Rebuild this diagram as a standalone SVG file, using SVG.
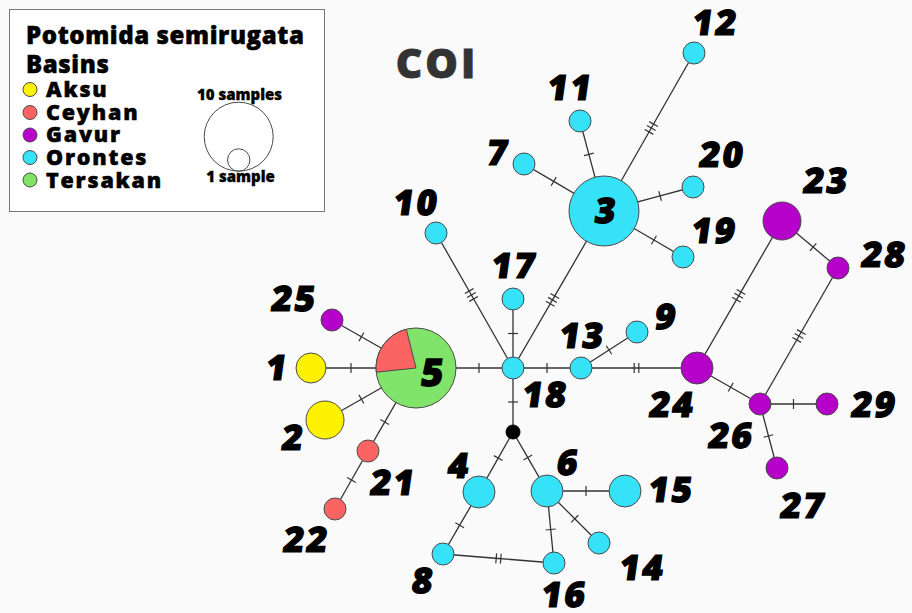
<svg xmlns="http://www.w3.org/2000/svg" width="912" height="613" viewBox="0 0 912 613">
  <style>
    .ln { stroke: #333; stroke-width: 1.3; fill: none; }
    .t1 { marker-mid: url(#tick1); }
    .t2 { marker-mid: url(#tick2); }
    .t3 { marker-mid: url(#tick3); }
    circle, .wedge { stroke: #4a4a4a; stroke-width: 1; }
    .aksu { fill: #fff200; }
    .ceyhan { fill: #fc6464; }
    .gavur { fill: #b400c8; }
    .orontes { fill: #35e2f8; }
    .tersakan { fill: #80e36a; }
    .mv { fill: #000; stroke: #000; }
    .lab { font-family: "Open Sans", "Liberation Sans", sans-serif; font-weight: 800; font-size: 35px; fill: #000; stroke: #000; stroke-width: 1.2; letter-spacing: 2.5px; text-anchor: middle; }
    .big { font-size: 38px; }
    .leg { font-family: "Open Sans", "Liberation Sans", sans-serif; font-weight: 800; fill: #000; stroke: #000; stroke-width: 0.5; }
    .legT { font-size: 24px; letter-spacing: 0.6px; }
    .legB { font-size: 21.5px; letter-spacing: 1.8px; }
    .legS { font-size: 15px; text-anchor: middle; stroke-width: 0.3; }
    .title { font-family: "Open Sans", "Liberation Sans", sans-serif; font-weight: 800; font-size: 41px; fill: #333; stroke: #333; stroke-width: 0.8; letter-spacing: 3px; text-anchor: middle; }
  </style>
  <defs>
    <!-- mutation ticks, drawn across the connector at its middle vertex -->
    <marker id="tick1" markerUnits="userSpaceOnUse" viewBox="-10 -6 20 12" markerWidth="20" markerHeight="12" refX="0" refY="0" orient="auto" overflow="visible">
      <path d="M0,-5V5" stroke="#333" stroke-width="1.2" fill="none"/>
    </marker>
    <marker id="tick2" markerUnits="userSpaceOnUse" viewBox="-10 -6 20 12" markerWidth="20" markerHeight="12" refX="0" refY="0" orient="auto" overflow="visible">
      <path d="M-2.3,-5V5M2.3,-5V5" stroke="#333" stroke-width="1.2" fill="none"/>
    </marker>
    <marker id="tick3" markerUnits="userSpaceOnUse" viewBox="-10 -6 20 12" markerWidth="20" markerHeight="12" refX="0" refY="0" orient="auto" overflow="visible">
      <path d="M-4.5,-5V5M0,-5V5M4.5,-5V5" stroke="#333" stroke-width="1.2" fill="none"/>
    </marker>
  </defs>

  <rect x="0" y="0" width="912" height="613" fill="#fafafa"/>

  <!-- legend -->
  <g id="legend">
    <rect x="9.5" y="9.5" width="315" height="202" fill="#fff" stroke="#777" stroke-width="1"/>
    <text class="leg legT" x="26" y="44">Potomida semirugata</text>
    <text class="leg legT" x="26" y="73">Basins</text>
    <circle class="aksu" cx="30" cy="89.5" r="7"/>
    <circle class="ceyhan" cx="30" cy="112.5" r="7"/>
    <circle class="gavur" cx="30" cy="135" r="7"/>
    <circle class="orontes" cx="30" cy="157.5" r="7"/>
    <circle class="tersakan" cx="30" cy="180" r="7"/>
    <text class="leg legB" x="46" y="97">Aksu</text>
    <text class="leg legB" x="46" y="120">Ceyhan</text>
    <text class="leg legB" x="46" y="142">Gavur</text>
    <text class="leg legB" x="46" y="165">Orontes</text>
    <text class="leg legB" x="46" y="188">Tersakan</text>
    <text class="leg legS" x="239.5" y="100">10 samples</text>
    <circle cx="238.7" cy="136.7" r="34.5" fill="none" stroke="#444"/>
    <circle cx="238.7" cy="160" r="11.2" fill="none" stroke="#444"/>
    <text class="leg legS" x="240.5" y="182">1 sample</text>
  </g>

  <text class="title" x="437" y="78">COI</text>

  <!-- connectors -->
  <g id="connectors">
    <path class="ln t1" d="M416,368 L351,368 L311,368"/>
    <path class="ln t1" d="M416,368 L361.4,336.8 L332,320"/>
    <path class="ln t1" d="M416,368 L361.4,399.2 L325,420"/>
    <path class="ln t1" d="M416,368 L384.7,422.1 L368,451"/>
    <path class="ln t1" d="M368,451 L351.5,480 L335,509"/>
    <path class="ln t1" d="M416,368 L479,368 L513,368"/>
    <path class="ln t3" d="M513,368 L471.4,295 L436,233"/>
    <path class="ln t1" d="M513,368 L513,333.5 L513,299"/>
    <path class="ln t3" d="M513,368 L552.5,299.9 L604,211"/>
    <path class="ln t1" d="M513,368 L547,368 L581,368"/>
    <path class="ln t1" d="M513,368 L513,402 L513,432"/>
    <path class="ln t1" d="M513,432 L498.2,458.1 L479,492"/>
    <path class="ln t1" d="M513,432 L527.8,457.6 L547,491"/>
    <path class="ln t1" d="M479,492 L459.7,525.2 L443,554"/>
    <path class="ln t2" d="M443,554 L498.5,558.5 L554,563"/>
    <path class="ln t1" d="M547,491 L550.7,529.5 L554,563"/>
    <path class="ln t1" d="M547,491 L574.8,518.8 L599,543"/>
    <path class="ln t1" d="M547,491 L586,491 L625,491"/>
    <path class="ln t1" d="M581,368 L609,350 L637,332"/>
    <path class="ln t2" d="M581,368 L636.5,368 L697,368"/>
    <path class="ln t3" d="M697,368 L738.7,295.8 L782,221"/>
    <path class="ln t1" d="M782,221 L813.1,247.1 L838,268"/>
    <path class="ln t3" d="M838,268 L799,336 L760,404"/>
    <path class="ln t1" d="M697,368 L730.7,387.2 L760,404"/>
    <path class="ln t1" d="M760,404 L793.5,404 L827,404"/>
    <path class="ln t1" d="M760,404 L768.5,436 L777,468"/>
    <path class="ln t1" d="M604,211 L553.7,181.4 L524,164"/>
    <path class="ln t1" d="M604,211 L588.9,154.4 L580,121"/>
    <path class="ln t3" d="M604,211 L651.3,128 L694,53"/>
    <path class="ln t1" d="M604,211 L660.1,195.9 L693,187"/>
    <path class="ln t1" d="M604,211 L653.9,240 L683,257"/>
  </g>

  <!-- haplotypes; labels lean slightly by a skew about their baseline -->
  <g id="h5">
    <circle class="tersakan" cx="416" cy="368" r="40"/>
    <path class="wedge ceyhan" d="M416,368 L376.2,372.2 A40,40 0 0 1 406.3,329.2 Z"/>
    <text class="lab big" transform="translate(432,386) skewX(-8)">5</text>
  </g>
  <g id="h1"><circle class="aksu" cx="311" cy="368" r="15"/><text class="lab" transform="translate(276,380) skewX(-8)">1</text></g>
  <g id="h2"><circle class="aksu" cx="325" cy="420" r="19"/><text class="lab" transform="translate(292,450) skewX(-8)">2</text></g>
  <g id="h25"><circle class="gavur" cx="332" cy="320" r="11"/><text class="lab" transform="translate(293,311) skewX(-8)">25</text></g>
  <g id="h21"><circle class="ceyhan" cx="368" cy="451" r="11"/><text class="lab" transform="translate(392,495) skewX(-8)">21</text></g>
  <g id="h22"><circle class="ceyhan" cx="335" cy="509" r="11"/><text class="lab" transform="translate(305,552) skewX(-8)">22</text></g>
  <g id="h18"><circle class="orontes" cx="513" cy="368" r="11"/><text class="lab" transform="translate(544,407) skewX(-8)">18</text></g>
  <g id="mv1"><circle class="mv" cx="513" cy="432" r="7"/></g>
  <g id="h4"><circle class="orontes" cx="479" cy="492" r="16"/><text class="lab" transform="translate(458,478) skewX(-8)">4</text></g>
  <g id="h6"><circle class="orontes" cx="547" cy="491" r="16"/><text class="lab" transform="translate(567,475) skewX(-8)">6</text></g>
  <g id="h15"><circle class="orontes" cx="625" cy="491" r="16"/><text class="lab" transform="translate(670,502) skewX(-8)">15</text></g>
  <g id="h14"><circle class="orontes" cx="599" cy="543" r="11"/><text class="lab" transform="translate(641,580) skewX(-8)">14</text></g>
  <g id="h16"><circle class="orontes" cx="554" cy="563" r="11"/><text class="lab" transform="translate(563,607) skewX(-8)">16</text></g>
  <g id="h8"><circle class="orontes" cx="443" cy="554" r="11"/><text class="lab" transform="translate(422,593) skewX(-8)">8</text></g>
  <g id="h13"><circle class="orontes" cx="581" cy="368" r="11"/><text class="lab" transform="translate(581,348) skewX(-8)">13</text></g>
  <g id="h9"><circle class="orontes" cx="637" cy="332" r="11"/><text class="lab" transform="translate(665,329) skewX(-8)">9</text></g>
  <g id="h24"><circle class="gavur" cx="697" cy="368" r="16"/><text class="lab" transform="translate(671,417) skewX(-8)">24</text></g>
  <g id="h23"><circle class="gavur" cx="782" cy="221" r="19"/><text class="lab" transform="translate(825,193) skewX(-8)">23</text></g>
  <g id="h28"><circle class="gavur" cx="838" cy="268" r="11"/><text class="lab" transform="translate(883,267) skewX(-8)">28</text></g>
  <g id="h26"><circle class="gavur" cx="760" cy="404" r="11"/><text class="lab" transform="translate(730,448) skewX(-8)">26</text></g>
  <g id="h29"><circle class="gavur" cx="827" cy="404" r="11"/><text class="lab" transform="translate(873,417) skewX(-8)">29</text></g>
  <g id="h27"><circle class="gavur" cx="777" cy="468" r="11"/><text class="lab" transform="translate(802,518) skewX(-8)">27</text></g>
  <g id="h3"><circle class="orontes" cx="604" cy="211" r="35"/><text class="lab" transform="translate(605,223) skewX(-8)">3</text></g>
  <g id="h19"><circle class="orontes" cx="683" cy="257" r="11"/><text class="lab" transform="translate(713,243) skewX(-8)">19</text></g>
  <g id="h20"><circle class="orontes" cx="693" cy="187" r="11"/><text class="lab" transform="translate(721,167) skewX(-8)">20</text></g>
  <g id="h7"><circle class="orontes" cx="524" cy="164" r="11"/><text class="lab" transform="translate(497,165) skewX(-8)">7</text></g>
  <g id="h11"><circle class="orontes" cx="580" cy="121" r="11"/><text class="lab" transform="translate(569,100) skewX(-8)">11</text></g>
  <g id="h12"><circle class="orontes" cx="694" cy="53" r="11"/><text class="lab" transform="translate(714,35) skewX(-8)">12</text></g>
  <g id="h10"><circle class="orontes" cx="436" cy="233" r="11"/><text class="lab" transform="translate(415,215) skewX(-8)">10</text></g>
  <g id="h17"><circle class="orontes" cx="513" cy="299" r="11"/><text class="lab" transform="translate(513,278) skewX(-8)">17</text></g>
</svg>
